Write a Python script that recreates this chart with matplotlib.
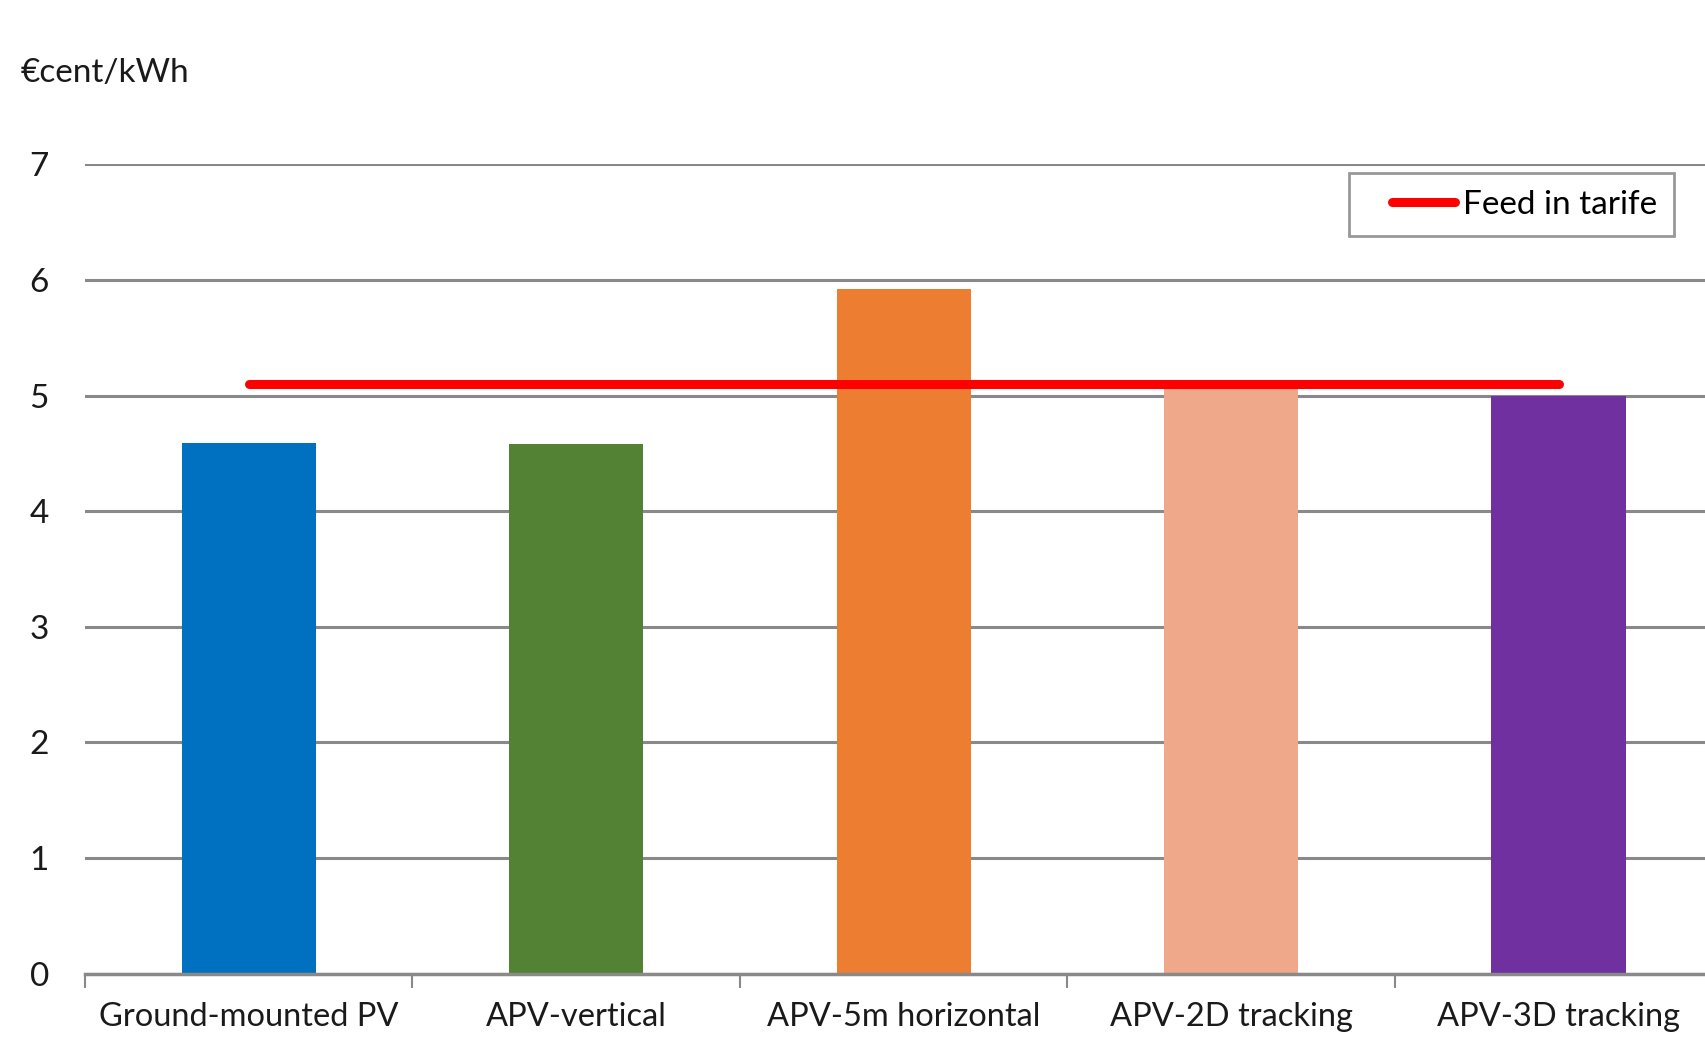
import numpy as np
import matplotlib
matplotlib.use("Agg")
import matplotlib.pyplot as plt
from matplotlib.lines import Line2D
from matplotlib.legend_handler import HandlerLine2D

plt.rcParams['font.family'] = ['Lato', 'DejaVu Sans']

categories = ["Ground-mounted PV", "APV-vertical", "APV-5m horizontal",
              "APV-2D tracking", "APV-3D tracking"]
costs = [4.59, 4.58, 5.92, 5.07, 5.00]
bar_colors = ["#0070C0", "#548235", "#ED7D31", "#F0A88A", "#7030A0"]
feed_in_tariff = 5.10


class ShortLineHandler(HandlerLine2D):
    # legend line that leaves some white space on its left, like Excel does
    def create_artists(self, legend, orig_handle, xdescent, ydescent,
                       width, height, fontsize, trans):
        y = (height - ydescent) / 2
        line = Line2D([width * 0.27, width * 0.94], [y, y])
        self.update_prop(line, orig_handle, legend)
        line.set_transform(trans)
        return [line]


fig = plt.figure(figsize=(17.06, 10.37), dpi=100)
ax = fig.add_axes([0.0498, 0.061, 0.9502, 0.7806])

x = np.arange(len(categories))
ax.bar(x, costs, width=0.41, color=bar_colors, zorder=2)
ax.plot([x[0], x[-1]], [feed_in_tariff, feed_in_tariff], color="#FF0000",
        lw=6.5, solid_capstyle="round", zorder=3, label="Feed in tarife")

ax.set_yticks(range(0, 8))
ax.yaxis.grid(True, color="#898989", lw=2.2, zorder=1)
ax.set_axisbelow(True)

ax.set_xticks(x)
ax.set_xticklabels(categories, fontsize=23.5, color="#1a1a1a")
ax.set_xticks(np.arange(-0.5, 5.0, 1.0), minor=True)
ax.tick_params(axis="x", which="major", length=0, pad=20)
ax.tick_params(axis="x", which="minor", length=10, width=1.5, color="#898989")
ax.tick_params(axis="y", length=0, pad=26, labelsize=24, labelcolor="#1a1a1a")

ax.set_xlim(-0.5, 4.45)
ax.set_ylim(0, 7)

for s in ["top", "right", "left"]:
    ax.spines[s].set_visible(False)
ax.spines["bottom"].set_color("#898989")
ax.spines["bottom"].set_linewidth(2.5)

fig.text(0.012, 0.93, "€cent/kWh", fontsize=24, color="#1a1a1a", va="center")

leg = ax.legend(loc="upper right", bbox_to_anchor=(0.98, 0.989), borderaxespad=0,
                fontsize=24, frameon=True, fancybox=False, edgecolor="#7f7f7f",
                handlelength=2.85, handletextpad=0.05, borderpad=0.5,
                handler_map={Line2D: ShortLineHandler()})
leg.get_frame().set_linewidth(2)

fig.savefig("out.png", dpi=100)
